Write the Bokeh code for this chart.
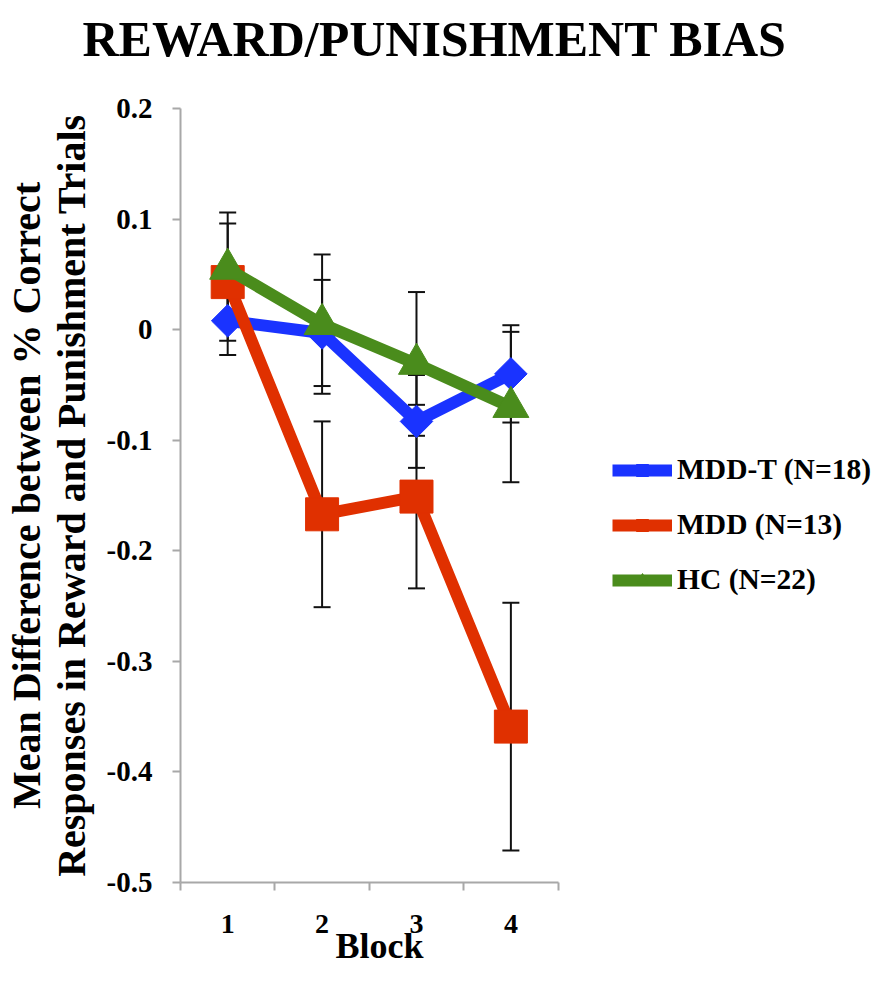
import numpy as np
from bokeh.plotting import figure
from bokeh.models import (ColumnDataSource, Whisker, TeeHead, FixedTicker, Legend,
                          LegendItem, Range1d, Title)
from bokeh.embed import file_html
from bokeh.resources import INLINE

# ---- data ----
blocks = [1, 2, 3, 4]
block_labels = ["1", "2", "3", "4"]
mddt = [0.008, -0.003, -0.083, -0.040]
mddt_err = [0.031, 0.048, 0.042, 0.044]
mdd = [0.043, -0.167, -0.151, -0.359]
mdd_err = [0.053, 0.084, 0.083, 0.112]
hc = [0.055, 0.005, -0.031, -0.070]
hc_err = [0.051, 0.063, 0.065, 0.068]
series_names = ["MDD-T (N=18)", "MDD (N=13)", "HC (N=22)"]
y_ticks = [-0.5, -0.4, -0.3, -0.2, -0.1, 0, 0.1, 0.2]
y_tick_labels = ["-0.5", "-0.4", "-0.3", "-0.2", "-0.1", "0", "0.1", "0.2"]
x_bounds = [0.5, 1.5, 2.5, 3.5, 4.5]

FONT = "Liberation Serif"
AXIS_GREY = "#a8a8a8"

# layout: the frame spans to the right edge so that the legend can sit in it;
# the x axis itself is limited to blocks 0.5..4.5 (383 px wide)
PLOT_W, PLOT_H = 876, 965
LEFT, RIGHT, TOP, BOTTOM = 170, 0, 108, 83
AXIS_PX = 383.0
x_end = x_bounds[0] + (PLOT_W - LEFT - RIGHT) * (x_bounds[-1] - x_bounds[0]) / AXIS_PX

p = figure(width=PLOT_W, height=PLOT_H, output_backend="svg", toolbar_location=None,
           title=None,
           x_range=Range1d(x_bounds[0], x_end), y_range=Range1d(-0.5, 0.2),
           min_border_left=LEFT, min_border_right=RIGHT, min_border_top=TOP,
           min_border_bottom=BOTTOM)
p.grid.visible = False
p.outline_line_color = None
p.background_fill_color = "white"

# title: a blank spacer title next to the frame, the real title above it
spacer = Title(text=" ", text_font=FONT, text_font_size="36px", standoff=0)
main_title = Title(text="REWARD/PUNISHMENT BIAS", text_font=FONT,
                   text_font_size="50px", text_font_style="bold",
                   text_color="black", align="left", offset=-98, standoff=0)
p.add_layout(spacer, "above")
p.add_layout(main_title, "above")

# y axis
ya = p.yaxis[0]
ya.ticker = FixedTicker(ticks=y_ticks, minor_ticks=[])
ya.major_label_overrides = {v: s for v, s in zip(y_ticks, y_tick_labels)}
ya.axis_line_color = AXIS_GREY
ya.axis_line_width = 2
ya.major_tick_line_color = AXIS_GREY
ya.major_tick_line_width = 2
ya.major_tick_out = 8
ya.major_tick_in = 0
ya.minor_tick_line_color = None
ya.major_label_text_font = FONT
ya.major_label_text_font_size = "29px"
ya.major_label_text_font_style = "bold"
ya.major_label_text_color = "black"
ya.major_label_standoff = 20
ya.axis_label = "Mean Difference between % Correct\nResponses in Reward and Punishment Trials"
ya.axis_label_text_font = FONT
ya.axis_label_text_font_size = "40px"
ya.axis_label_text_font_style = "bold"
ya.axis_label_text_color = "black"
ya.axis_label_text_line_height = 1.0
ya.axis_label_standoff = 10

# x axis
xa = p.xaxis[0]
xa.bounds = (x_bounds[0], x_bounds[-1])
xa.ticker = FixedTicker(ticks=blocks, minor_ticks=x_bounds)
xa.major_label_overrides = {b: s for b, s in zip(blocks, block_labels)}
xa.axis_line_color = AXIS_GREY
xa.axis_line_width = 2
xa.major_tick_line_color = None
xa.major_tick_out = 0
xa.major_tick_in = 0
xa.minor_tick_line_color = AXIS_GREY
xa.minor_tick_line_width = 2
xa.minor_tick_out = 8
xa.minor_tick_in = 0
xa.major_label_text_font = FONT
xa.major_label_text_font_size = "28px"
xa.major_label_text_font_style = "bold"
xa.major_label_text_color = "black"
xa.major_label_standoff = 24

# x axis title "Block", centred under the axis
xtitle = Title(text="Block", text_font=FONT, text_font_size="36px",
               text_font_style="bold", text_color="black", align="left",
               offset=155, standoff=-24)
p.add_layout(xtitle, "below")

colors = ["#1a33ff", "#e03000", "#4a8c1c"]
means = [mddt, mdd, hc]
errs = [mddt_err, mdd_err, hc_err]

# error bars (under the lines)
for m, e in zip(means, errs):
    m_a = np.array(m)
    e_a = np.array(e)
    src = ColumnDataSource(dict(x=blocks, lower=m_a - e_a, upper=m_a + e_a))
    w = Whisker(source=src, base="x", lower="lower", upper="upper",
                line_color="#111111", line_width=2, level="underlay",
                upper_head=TeeHead(size=17, line_color="#111111", line_width=2),
                lower_head=TeeHead(size=17, line_color="#111111", line_width=2))
    p.add_layout(w)

items = []
# MDD-T
l1 = p.line(blocks, mddt, line_color=colors[0], line_width=12, line_join="round")
s1 = p.scatter(blocks, mddt, marker="square", angle=np.pi / 4, size=23,
               fill_color=colors[0], line_color=colors[0])
items.append(LegendItem(label=series_names[0], renderers=[l1, s1]))
# MDD
l2 = p.line(blocks, mdd, line_color=colors[1], line_width=12, line_join="round")
s2 = p.scatter(blocks, mdd, marker="square", size=33,
               fill_color=colors[1], line_color=colors[1])
items.append(LegendItem(label=series_names[1], renderers=[l2, s2]))
# HC
l3 = p.line(blocks, hc, line_color=colors[2], line_width=12, line_join="round")
s3 = p.scatter(blocks, hc, marker="triangle", size=36,
               fill_color=colors[2], line_color=colors[2])
items.append(LegendItem(label=series_names[2], renderers=[l3, s3]))

legend = Legend(items=items, location=(432, 286))
legend.label_text_font = FONT
legend.label_text_font_size = "29.5px"
legend.label_text_font_style = "bold"
legend.label_text_color = "black"
legend.glyph_width = 60
legend.glyph_height = 30
legend.label_height = 30
legend.label_standoff = 5
legend.spacing = 22
legend.padding = 0
legend.margin = 0
legend.border_line_color = None
legend.background_fill_alpha = 0
p.add_layout(legend)

open("out.html", "w").write(file_html(p, INLINE))
